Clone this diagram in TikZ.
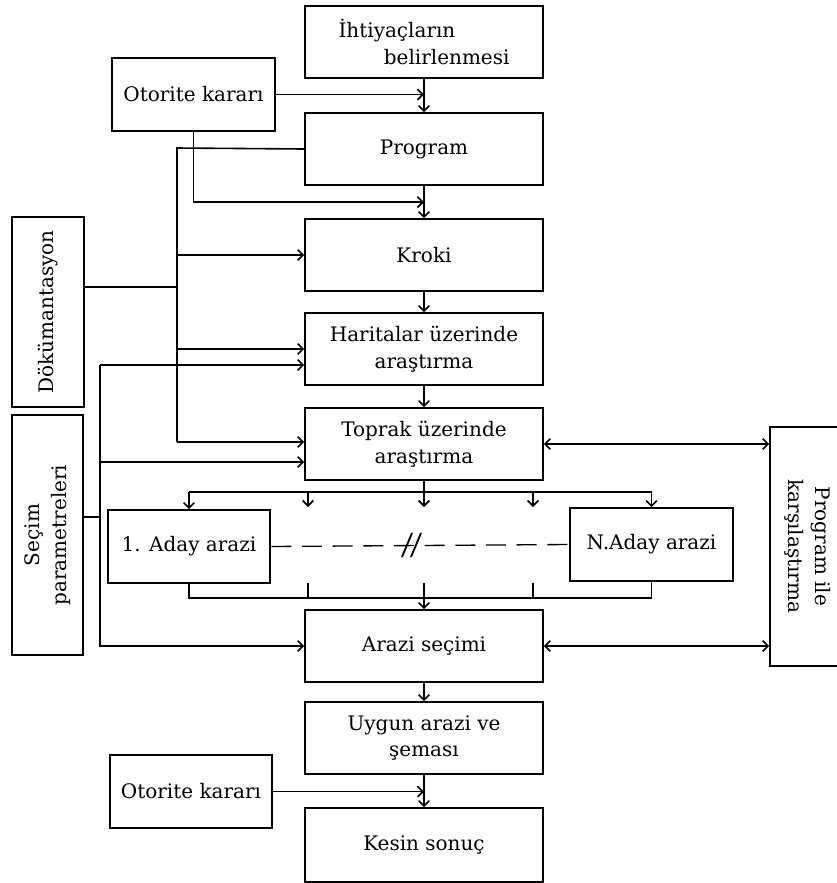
\documentclass[tikz,border=0pt]{standalone}
\usepackage{fontspec}
\setmainfont{DejaVu Serif}
\usetikzlibrary{arrows.meta,calc}

\tikzset{every picture/.style={line width=1.2pt}}
\tikzset{
  kutu/.style={draw, line width=1.4pt, minimum width=178.5pt, minimum height=54pt,
    align=center, inner sep=2pt, font=\fontsize{15}{20}\selectfont},
  yan/.style={kutu, minimum width=122pt, minimum height=54.75pt},
  ok/.style={-{Straight Barb[length=4pt,width=8pt]}},
  ciftok/.style={{Straight Barb[length=4pt,width=8pt]}-{Straight Barb[length=4pt,width=8pt]}}
}

\begin{document}
\begin{tikzpicture}[x=0.75pt,y=0.75pt,yscale=-1,xscale=1]
\useasboundingbox (0,0) rectangle (837,883);

% Main column
\node[kutu, align=left] (ihtiyac) at (424,42) {İhtiyaçların\\\hspace*{34pt}belirlenmesi};
\node[kutu] (program) at (424,149) {Program};
\node[kutu] (kroki) at (424,255) {Kroki};
\node[kutu] (harita) at (424,349) {Haritalar üzerinde\\araştırma};
\node[kutu] (toprak) at (424,444) {Toprak üzerinde\\araştırma};
\node[kutu] (secimi) at (424,646) {Arazi seçimi};
\node[kutu] (uygun) at (424,738) {Uygun arazi ve\\şeması};
\node[kutu, minimum height=55.5pt] (kesin) at (424,845) {Kesin sonuç};

% Side boxes
\node[yan] (otorite1) at (193.5,94.5) {Otorite kararı};
\node[yan] (otorite2) at (191,791.5) {Otorite kararı};
\node[yan] (aday1) at (189,546.5) {1. Aday arazi};
\node[yan] (adayN) at (651.5,544.5) {N.Aday arazi};
\node[kutu, rotate=90, minimum width=142.5pt, minimum height=54pt] (dokuman) at (48,312) {Dökümantasyon};
\node[kutu, rotate=90, minimum width=180pt, minimum height=53.25pt] (secim) at (47.5,535) {Seçim\\parametreleri};
\node[kutu, rotate=-90, minimum width=179.25pt, minimum height=56.25pt] (karsi) at (807.5,546.5) {Program ile\\karşılaştırma};

% Buses
\coordinate (busD) at (177,148);
\coordinate (busS) at (100,365);

% Main flow
\draw[ok] (ihtiyac) -- (program);
\draw[ok] (program) -- (kroki);
\draw[ok] (kroki) -- (harita);
\draw[ok] (harita) -- (toprak);
\draw[ok] (secimi) -- (uygun);
\draw[ok] (uygun) -- (kesin);
\draw[ok] (otorite1.east) -- (otorite1.east -| ihtiyac.south);
\draw[ok] (otorite1.south) |- ($(program.south)!0.5!(kroki.north)$);
\draw[ok] (otorite2.east) -- (otorite2.east -| kesin.north);

% Documentation bus
\draw (program.west) -- (busD) -- (busD |- 0,442);
\draw (dokuman.south |- 0,287) -- (busD |- 0,287);
\draw[ok] (busD |- kroki.west) -- (kroki.west);
\draw[ok] (busD |- harita.west) -- (harita.west);
\draw[ok] (busD |- 0,442) -- (toprak.west |- 0,442);

% Selection parameters bus
\draw (secim.south |- 0,517) -- (busS |- 0,517);
\draw[ok] (busS) -- (harita.west |- busS);
\draw[ok] (busS |- 0,462) -- (toprak.west |- 0,462);
\draw[ok] (busS) |- (secimi.west);

% Comparison with program
\draw[ciftok] (toprak.east) -- (toprak.east -| karsi.south);
\draw[ciftok] (secimi.east) -- (secimi.east -| karsi.south);

% Candidate sites
\draw (toprak.south) -- (toprak.south |- 0,492);
\draw (aday1.north |- 0,492) -- (adayN.north |- 0,492);
\draw[ok] (aday1.north |- 0,492) -- (aday1.north);
\draw[ok] (adayN.north |- 0,492) -- (adayN.north);
\foreach \x in {308,424,533}
  \draw[ok] (\x,492) -- (\x,507);
\draw[dashed, dash pattern=on 15pt off 8pt, line width=1pt] (aday1.east) -- (adayN.west);
\draw[line width=1.4pt] (402,557) -- (412,533) (411,557) -- (421,533);

% Collection to site selection
\draw (aday1.south) |- (adayN.south |- 0,598) -- (adayN.south);
\foreach \x in {308,533}
  \draw (\x,583) -- (\x,598);
\draw[ok] (secimi.north |- 0,583) -- (secimi.north);

\end{tikzpicture}
\end{document}
